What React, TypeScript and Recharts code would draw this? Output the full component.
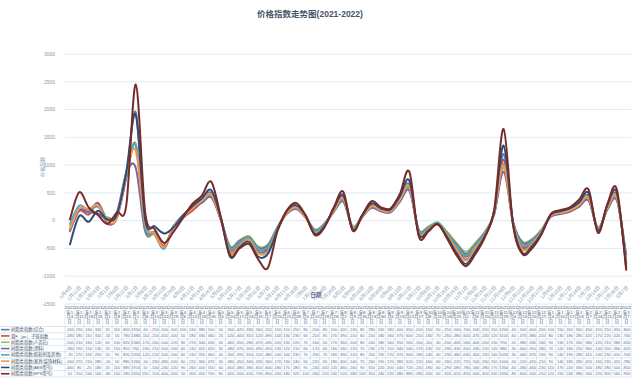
import React from "react";
import { LineChart, Line, XAxis, YAxis, CartesianGrid } from "recharts";

const dates = [
  "2021-1-4", "2021-1-11", "2021-1-18", "2021-1-25", "2021-2-1", "2021-2-8", "2021-2-22", "2021-3-1", "2021-3-8", "2021-3-15",
  "2021-3-22", "2021-3-29", "2021-4-6", "2021-4-12", "2021-4-19", "2021-4-26", "2021-5-6", "2021-5-10", "2021-5-17", "2021-5-24",
  "2021-5-31", "2021-6-7", "2021-6-15", "2021-6-21", "2021-6-28", "2021-7-5", "2021-7-12", "2021-7-19", "2021-7-26", "2021-8-2",
  "2021-8-9", "2021-8-16", "2021-8-23", "2021-8-30", "2021-9-6", "2021-9-13", "2021-9-22", "2021-9-27", "2021-10-8", "2021-10-11",
  "2021-10-18", "2021-10-25", "2021-11-1", "2021-11-8", "2021-11-15", "2021-11-22", "2021-11-29", "2021-12-6", "2021-12-13", "2021-12-20",
  "2021-12-27", "2022-1-4", "2022-1-10", "2022-1-17", "2022-1-24", "2022-2-7", "2022-2-14", "2022-2-21", "2022-2-28", "2022-3-7",
];

const seriesNames = [
  "树脂类指数(综合)",
  "双F（pc）子链指数",
  "树脂类指数(人造石)",
  "树脂类指数(涂料)",
  "树脂类指数(胶粘剂及其他)",
  "树脂类指数(家具/装饰材料)",
  "树脂类指数(ABS型号)",
  "树脂类指数(EPS型号)",
];

const seriesColors = ["#4f81bd", "#c0504d", "#9bbb59", "#8064a2", "#4bacc6", "#f79646", "#2c4d75", "#772c2a"];

const s1 = [-200, 190, 160, 320, 20, 110, 800, 1950, -60, -250,
  -500, -100, 100, 240, 380, 500, 50, -560, -420, -330,
  -560, -520, -150, 150, 250, 80, -200, -80, 200, 420,
  -130, 80, 280, 200, 180, 400, 650, -200, -150, -50,
  -250, -500, -700, -500, -250, 150, 1200, -40, -500, -400,
  -200, 100, 150, 200, 300, 450, -150, 250, 450, -800];
const s2 = [-180, 180, 110, 310, -50, 50, 780, 1380, -110, -210,
  -450, -100, 50, 180, 330, 460, 20, -520, -400, -310,
  -520, -490, -140, 130, 230, 60, -210, -90, 170, 390,
  -150, 60, 250, 180, 160, 370, 600, -210, -160, -70,
  -260, -480, -650, -470, -240, 120, 1100, -60, -470, -380,
  -210, 80, 130, 180, 280, 420, -170, 220, 420, -760];
const s3 = [-100, 210, 160, 120, 60, 100, 820, 1360, -170, -240,
  -500, -120, 80, 270, 340, 430, 40, -460, -350, -280,
  -470, -430, -120, 130, 220, 70, -160, -50, 170, 360,
  -100, 80, 240, 180, 160, 350, 560, -160, -110, -30,
  -200, -400, -560, -400, -200, 130, 950, -20, -380, -330,
  -160, 90, 130, 170, 260, 380, -120, 210, 380, -650];
const s4 = [-180, 190, 150, 130, 20, 150, 850, 950, -190, -210,
  -500, -100, 60, 240, 320, 420, 30, -480, -370, -300,
  -490, -450, -130, 120, 210, 60, -170, -60, 160, 340,
  -120, 70, 230, 170, 150, 340, 540, -170, -130, -50,
  -230, -430, -600, -430, -220, 120, 880, -30, -400, -350,
  -180, 70, 120, 160, 250, 360, -140, 200, 360, -620];
const s5 = [-70, 270, 190, 250, 20, 90, 820, 1350, -120, -220,
  -500, -100, 60, 240, 350, 460, 40, -500, -390, -310,
  -510, -480, -140, 140, 230, 70, -190, -70, 180, 390,
  -120, 80, 260, 190, 170, 370, 600, -180, -140, -40,
  -230, -460, -630, -450, -230, 140, 1020, -30, -440, -370,
  -190, 90, 140, 190, 280, 410, -140, 230, 410, -700];
const s6 = [-160, 220, 210, 280, -10, 50, 880, 1260, -50, -230,
  -480, -100, 60, 220, 360, 470, 30, -580, -450, -340,
  -590, -560, -170, 130, 240, 60, -220, -90, 180, 400,
  -140, 70, 260, 190, 170, 380, 620, -220, -160, -60,
  -260, -520, -720, -500, -260, 150, 1000, -50, -520, -420,
  -210, 90, 140, 180, 280, 420, -160, 230, 420, -780];
const s7 = [-440, 80, -20, 180, 20, 110, 880, 1910, 10, -100,
  -230, -120, 90, 260, 400, 550, 60, -650, -480, -380,
  -650, -600, -180, 170, 280, 90, -240, -100, 220, 460,
  -160, 90, 310, 220, 200, 440, 720, -240, -180, -60,
  -290, -580, -780, -560, -280, 170, 1350, -60, -580, -460,
  -230, 110, 170, 220, 330, 500, -180, 280, 500, -850];
const s8 = [10, 510, 240, 100, -60, 150, 280, 2450, 150, -150,
  -400, -200, 50, 300, 450, 700, 80, -620, -500, -420,
  -700, -850, -200, 180, 320, 100, -260, -120, 240, 520,
  -180, 100, 350, 240, 220, 480, 880, -280, -200, -60,
  -320, -620, -820, -600, -300, 200, 1650, -80, -600, -500,
  -250, 120, 190, 240, 380, 560, -220, 300, 560, -900];

const series = [s1, s2, s3, s4, s5, s6, s7, s8];
const yTicks = [-1500, -1000, -500, 0, 500, 1000, 1500, 2000, 2500, 3000];

// layout
const W = 640;
const H = 383;
const PLOT_L = 65;
const PLOT_R = 631;
const PLOT_T = 54;
const PLOT_B = 304;
const COL_W = (PLOT_R - PLOT_L) / dates.length;
const HEAD_B = 326.5;
const ROW_H = 6.3;

const FONT = "'Liberation Sans', 'Noto Sans CJK SC', sans-serif";
const TXT = "#44546a";
const AXIS_TXT = "#8496b0";
const BORDER = "#c6d6ea";

const shortLabel = (d: string) => {
  const [, m, day] = d.split("-");
  return `${m}月${day}日`;
};

const data = dates.map((d, i) => {
  const row: any = { label: shortLabel(d) };
  series.forEach((s, k) => (row[`s${k + 1}`] = s[i]));
  return row;
});

// Excel-style smoothed line (Catmull-Rom through each point)
const excelSmooth = (context: any) => {
  let pts: number[][] = [];
  return {
    areaStart() {},
    areaEnd() {},
    lineStart() {
      pts = [];
    },
    point(x: number, y: number) {
      pts.push([+x, +y]);
    },
    lineEnd() {
      const n = pts.length;
      if (!n) return;
      context.moveTo(pts[0][0], pts[0][1]);
      for (let i = 0; i < n - 1; i++) {
        const p0 = pts[i > 0 ? i - 1 : 0];
        const p1 = pts[i];
        const p2 = pts[i + 1];
        const p3 = pts[i + 2 < n ? i + 2 : n - 1];
        context.bezierCurveTo(
          p1[0] + (p2[0] - p0[0]) / 6, p1[1] + (p2[1] - p0[1]) / 6,
          p2[0] - (p3[0] - p1[0]) / 6, p2[1] - (p3[1] - p1[1]) / 6,
          p2[0], p2[1]
        );
      }
    },
  };
};

const renderDateTick = (props: any) => {
  const { x, payload, index } = props;
  const ax = x + 2.5;
  const ay = 288;
  return (
    <text key={`t${index}`} x={ax} y={ay} transform={`rotate(-45, ${ax}, ${ay})`} textAnchor="end" fontSize={5} fill={AXIS_TXT}>
      {payload.value}
    </text>
  );
};

function DataTable() {
  const rowsTop = HEAD_B;
  const tableB = rowsTop + ROW_H * series.length;
  return (
    <svg width={W} height={H} style={{ position: "absolute", left: 0, top: 0, pointerEvents: "none" }} fontFamily={FONT}>
      {/* y axis title */}
      <text x={44} y={167} transform="rotate(-90, 44, 167)" textAnchor="middle" fontSize={5} fill={AXIS_TXT}>
        价格指数
      </text>
      {/* x axis title */}
      <text x={316} y={297} textAnchor="middle" fontSize={5.5} fontWeight="bold" fill="#5a6a88">
        日期
      </text>

      {/* borders */}
      <line x1={PLOT_L} x2={PLOT_R} y1={HEAD_B} y2={HEAD_B} stroke={BORDER} strokeWidth={0.6} />
      {series.map((_, k) => (
        <line key={`h${k}`} x1={0} x2={PLOT_R} y1={rowsTop + ROW_H * (k + 1)} y2={rowsTop + ROW_H * (k + 1)} stroke={BORDER} strokeWidth={0.6} />
      ))}
      <line x1={0} x2={PLOT_L} y1={rowsTop} y2={rowsTop} stroke={BORDER} strokeWidth={0.6} />
      {dates.map((_, i) => (
        <line key={`v${i}`} x1={PLOT_L + i * COL_W} x2={PLOT_L + i * COL_W} y1={PLOT_B} y2={tableB} stroke={BORDER} strokeWidth={0.6} />
      ))}
      <line x1={PLOT_R} x2={PLOT_R} y1={PLOT_B} y2={tableB} stroke={BORDER} strokeWidth={0.6} />

      {/* header dates */}
      {dates.map((d, i) => {
        const [y, m, day] = d.split("-");
        const lines = [y, `年${m}`, `月${day}`, "日"];
        const cx = PLOT_L + (i + 0.5) * COL_W;
        return lines.map((t, j) => (
          <text key={`d${i}-${j}`} x={cx} y={308.8 + j * 4.8} textAnchor="middle" fontSize={4.2} fill={TXT}>
            {t}
          </text>
        ));
      })}

      {/* legend keys and values */}
      {series.map((s, k) => {
        const cy = rowsTop + ROW_H * (k + 0.5);
        return (
          <g key={`r${k}`}>
            <line x1={1} x2={9.5} y1={cy} y2={cy} stroke={seriesColors[k]} strokeWidth={1.6} />
            <text x={11} y={cy + 1.6} fontSize={4.3} fill={TXT}>
              {seriesNames[k]}
            </text>
            {s.map((v, i) => (
              <text key={i} x={PLOT_L + (i + 0.5) * COL_W} y={cy + 1.5} textAnchor="middle" fontSize={4} fill="#5b6b86">
                {v}
              </text>
            ))}
          </g>
        );
      })}
    </svg>
  );
}

export default function App() {
  return (
    <div style={{ position: "fixed", left: 0, top: 0, width: W, height: H, background: "#fff", fontFamily: FONT }}>
      <div style={{ position: "absolute", left: 0, top: 7, width: 620, textAlign: "center", fontSize: 8.5, fontWeight: "bold", color: "#44546a" }}>
        价格指数走势图(2021-2022)
      </div>
      <LineChart width={W} height={H} data={data} margin={{ top: PLOT_T, right: W - PLOT_R, bottom: H - PLOT_B - 10, left: 0 }}>
        <CartesianGrid vertical={false} stroke="#dbe5f1" strokeWidth={0.8} />
        <XAxis
          dataKey="label"
          height={10}
          axisLine={false}
          tickLine={false}
          interval={0}
          padding={{ left: COL_W / 2, right: COL_W / 2 }}
          tick={renderDateTick}
        />
        <YAxis
          width={PLOT_L}
          domain={[-1500, 3000]}
          ticks={yTicks}
          axisLine={false}
          tickLine={false}
          tickMargin={4}
          tick={{ fontSize: 5, fill: AXIS_TXT }}
        />
        {series.map((_, k) => (
          <Line
            key={k}
            dataKey={`s${k + 1}`}
            name={seriesNames[k]}
            type={excelSmooth as any}
            stroke={seriesColors[k]}
            strokeWidth={2}
            dot={false}
            isAnimationActive={false}
          />
        ))}
      </LineChart>
      <DataTable />
    </div>
  );
}
